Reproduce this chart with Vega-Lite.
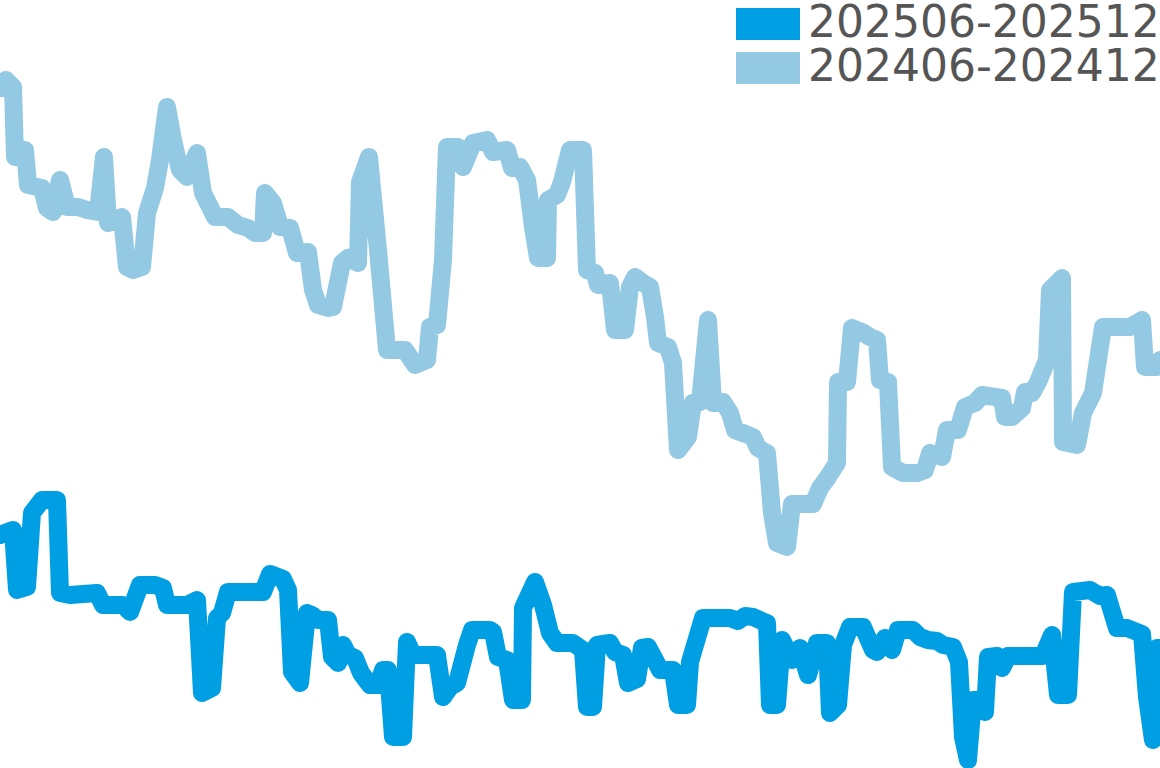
{
  "$schema": "https://vega.github.io/schema/vega-lite/v6.json",
  "width": 1160,
  "height": 768,
  "padding": 0,
  "autosize": {"type": "fit", "contains": "padding"},
  "config": {"view": {"stroke": null}},
  "data": {
    "values": [
      {"p":"202406-202412","d":0,"v":680},{"p":"202406-202412","d":6,"v":688},{"p":"202406-202412","d":13,"v":681},{"p":"202406-202412","d":15,"v":611},{"p":"202406-202412","d":25,"v":618},{"p":"202406-202412","d":28,"v":583},{"p":"202406-202412","d":42,"v":580},{"p":"202406-202412","d":47,"v":560},{"p":"202406-202412","d":53,"v":556},{"p":"202406-202412","d":60,"v":588},{"p":"202406-202412","d":67,"v":561},{"p":"202406-202412","d":78,"v":561},{"p":"202406-202412","d":87,"v":558},{"p":"202406-202412","d":98,"v":556},{"p":"202406-202412","d":104,"v":611},{"p":"202406-202412","d":108,"v":545},{"p":"202406-202412","d":122,"v":551},{"p":"202406-202412","d":127,"v":501},{"p":"202406-202412","d":133,"v":498},{"p":"202406-202412","d":142,"v":501},{"p":"202406-202412","d":147,"v":555},{"p":"202406-202412","d":155,"v":580},{"p":"202406-202412","d":160,"v":608},{"p":"202406-202412","d":167,"v":661},{"p":"202406-202412","d":173,"v":628},{"p":"202406-202412","d":180,"v":598},{"p":"202406-202412","d":187,"v":591},{"p":"202406-202412","d":197,"v":615},{"p":"202406-202412","d":203,"v":575},{"p":"202406-202412","d":215,"v":551},{"p":"202406-202412","d":228,"v":551},{"p":"202406-202412","d":238,"v":543},{"p":"202406-202412","d":248,"v":540},{"p":"202406-202412","d":255,"v":535},{"p":"202406-202412","d":263,"v":535},{"p":"202406-202412","d":265,"v":575},{"p":"202406-202412","d":273,"v":565},{"p":"202406-202412","d":280,"v":541},{"p":"202406-202412","d":290,"v":540},{"p":"202406-202412","d":297,"v":515},{"p":"202406-202412","d":308,"v":516},{"p":"202406-202412","d":313,"v":478},{"p":"202406-202412","d":318,"v":463},{"p":"202406-202412","d":328,"v":460},{"p":"202406-202412","d":333,"v":461},{"p":"202406-202412","d":342,"v":505},{"p":"202406-202412","d":348,"v":510},{"p":"202406-202412","d":358,"v":505},{"p":"202406-202412","d":360,"v":586},{"p":"202406-202412","d":369,"v":611},{"p":"202406-202412","d":378,"v":518},{"p":"202406-202412","d":387,"v":418},{"p":"202406-202412","d":397,"v":418},{"p":"202406-202412","d":405,"v":418},{"p":"202406-202412","d":415,"v":403},{"p":"202406-202412","d":427,"v":408},{"p":"202406-202412","d":430,"v":441},{"p":"202406-202412","d":437,"v":443},{"p":"202406-202412","d":443,"v":508},{"p":"202406-202412","d":447,"v":621},{"p":"202406-202412","d":458,"v":621},{"p":"202406-202412","d":463,"v":601},{"p":"202406-202412","d":473,"v":625},{"p":"202406-202412","d":487,"v":628},{"p":"202406-202412","d":493,"v":616},{"p":"202406-202412","d":507,"v":618},{"p":"202406-202412","d":512,"v":600},{"p":"202406-202412","d":520,"v":601},{"p":"202406-202412","d":527,"v":588},{"p":"202406-202412","d":533,"v":541},{"p":"202406-202412","d":538,"v":510},{"p":"202406-202412","d":547,"v":510},{"p":"202406-202412","d":548,"v":568},{"p":"202406-202412","d":557,"v":573},{"p":"202406-202412","d":562,"v":586},{"p":"202406-202412","d":570,"v":618},{"p":"202406-202412","d":583,"v":618},{"p":"202406-202412","d":587,"v":498},{"p":"202406-202412","d":595,"v":495},{"p":"202406-202412","d":598,"v":483},{"p":"202406-202412","d":610,"v":485},{"p":"202406-202412","d":615,"v":438},{"p":"202406-202412","d":625,"v":438},{"p":"202406-202412","d":630,"v":481},{"p":"202406-202412","d":635,"v":491},{"p":"202406-202412","d":643,"v":485},{"p":"202406-202412","d":650,"v":481},{"p":"202406-202412","d":655,"v":451},{"p":"202406-202412","d":658,"v":425},{"p":"202406-202412","d":668,"v":421},{"p":"202406-202412","d":673,"v":405},{"p":"202406-202412","d":678,"v":318},{"p":"202406-202412","d":688,"v":331},{"p":"202406-202412","d":693,"v":365},{"p":"202406-202412","d":700,"v":366},{"p":"202406-202412","d":708,"v":448},{"p":"202406-202412","d":713,"v":365},{"p":"202406-202412","d":723,"v":366},{"p":"202406-202412","d":730,"v":355},{"p":"202406-202412","d":735,"v":338},{"p":"202406-202412","d":743,"v":335},{"p":"202406-202412","d":753,"v":331},{"p":"202406-202412","d":758,"v":320},{"p":"202406-202412","d":767,"v":315},{"p":"202406-202412","d":772,"v":255},{"p":"202406-202412","d":777,"v":225},{"p":"202406-202412","d":787,"v":221},{"p":"202406-202412","d":792,"v":264},{"p":"202406-202412","d":813,"v":264},{"p":"202406-202412","d":820,"v":280},{"p":"202406-202412","d":828,"v":291},{"p":"202406-202412","d":837,"v":305},{"p":"202406-202412","d":838,"v":386},{"p":"202406-202412","d":847,"v":386},{"p":"202406-202412","d":852,"v":440},{"p":"202406-202412","d":862,"v":436},{"p":"202406-202412","d":870,"v":431},{"p":"202406-202412","d":877,"v":428},{"p":"202406-202412","d":880,"v":388},{"p":"202406-202412","d":888,"v":386},{"p":"202406-202412","d":892,"v":301},{"p":"202406-202412","d":903,"v":295},{"p":"202406-202412","d":917,"v":295},{"p":"202406-202412","d":925,"v":298},{"p":"202406-202412","d":930,"v":315},{"p":"202406-202412","d":942,"v":311},{"p":"202406-202412","d":947,"v":338},{"p":"202406-202412","d":958,"v":338},{"p":"202406-202412","d":965,"v":361},{"p":"202406-202412","d":975,"v":365},{"p":"202406-202412","d":982,"v":373},{"p":"202406-202412","d":995,"v":371},{"p":"202406-202412","d":1002,"v":370},{"p":"202406-202412","d":1005,"v":351},{"p":"202406-202412","d":1012,"v":351},{"p":"202406-202412","d":1022,"v":360},{"p":"202406-202412","d":1025,"v":376},{"p":"202406-202412","d":1032,"v":375},{"p":"202406-202412","d":1038,"v":386},{"p":"202406-202412","d":1047,"v":408},{"p":"202406-202412","d":1050,"v":478},{"p":"202406-202412","d":1062,"v":490},{"p":"202406-202412","d":1063,"v":326},{"p":"202406-202412","d":1077,"v":323},{"p":"202406-202412","d":1083,"v":355},{"p":"202406-202412","d":1093,"v":375},{"p":"202406-202412","d":1103,"v":441},{"p":"202406-202412","d":1130,"v":441},{"p":"202406-202412","d":1142,"v":448},{"p":"202406-202412","d":1145,"v":401},{"p":"202406-202412","d":1157,"v":401},{"p":"202406-202412","d":1160,"v":408},
      {"p":"202506-202512","d":0,"v":233},{"p":"202506-202512","d":13,"v":238},{"p":"202506-202512","d":17,"v":178},{"p":"202506-202512","d":27,"v":181},{"p":"202506-202512","d":32,"v":255},{"p":"202506-202512","d":42,"v":268},{"p":"202506-202512","d":57,"v":268},{"p":"202506-202512","d":60,"v":175},{"p":"202506-202512","d":70,"v":173},{"p":"202506-202512","d":97,"v":175},{"p":"202506-202512","d":103,"v":163},{"p":"202506-202512","d":123,"v":163},{"p":"202506-202512","d":130,"v":156},{"p":"202506-202512","d":140,"v":183},{"p":"202506-202512","d":155,"v":183},{"p":"202506-202512","d":163,"v":180},{"p":"202506-202512","d":167,"v":163},{"p":"202506-202512","d":187,"v":163},{"p":"202506-202512","d":197,"v":168},{"p":"202506-202512","d":202,"v":75},{"p":"202506-202512","d":212,"v":80},{"p":"202506-202512","d":217,"v":150},{"p":"202506-202512","d":222,"v":155},{"p":"202506-202512","d":228,"v":176},{"p":"202506-202512","d":263,"v":176},{"p":"202506-202512","d":270,"v":194},{"p":"202506-202512","d":283,"v":189},{"p":"202506-202512","d":288,"v":178},{"p":"202506-202512","d":292,"v":96},{"p":"202506-202512","d":300,"v":85},{"p":"202506-202512","d":307,"v":155},{"p":"202506-202512","d":312,"v":153},{"p":"202506-202512","d":318,"v":148},{"p":"202506-202512","d":328,"v":148},{"p":"202506-202512","d":332,"v":111},{"p":"202506-202512","d":338,"v":105},{"p":"202506-202512","d":343,"v":123},{"p":"202506-202512","d":348,"v":113},{"p":"202506-202512","d":355,"v":110},{"p":"202506-202512","d":361,"v":95},{"p":"202506-202512","d":370,"v":83},{"p":"202506-202512","d":378,"v":83},{"p":"202506-202512","d":383,"v":98},{"p":"202506-202512","d":388,"v":98},{"p":"202506-202512","d":393,"v":31},{"p":"202506-202512","d":403,"v":31},{"p":"202506-202512","d":407,"v":126},{"p":"202506-202512","d":413,"v":113},{"p":"202506-202512","d":437,"v":113},{"p":"202506-202512","d":443,"v":71},{"p":"202506-202512","d":450,"v":81},{"p":"202506-202512","d":457,"v":85},{"p":"202506-202512","d":467,"v":123},{"p":"202506-202512","d":472,"v":138},{"p":"202506-202512","d":490,"v":138},{"p":"202506-202512","d":493,"v":136},{"p":"202506-202512","d":498,"v":111},{"p":"202506-202512","d":507,"v":108},{"p":"202506-202512","d":513,"v":68},{"p":"202506-202512","d":522,"v":68},{"p":"202506-202512","d":523,"v":160},{"p":"202506-202512","d":535,"v":186},{"p":"202506-202512","d":543,"v":163},{"p":"202506-202512","d":550,"v":135},{"p":"202506-202512","d":557,"v":125},{"p":"202506-202512","d":573,"v":125},{"p":"202506-202512","d":583,"v":118},{"p":"202506-202512","d":587,"v":61},{"p":"202506-202512","d":593,"v":61},{"p":"202506-202512","d":597,"v":123},{"p":"202506-202512","d":610,"v":125},{"p":"202506-202512","d":615,"v":116},{"p":"202506-202512","d":623,"v":113},{"p":"202506-202512","d":628,"v":85},{"p":"202506-202512","d":637,"v":89},{"p":"202506-202512","d":642,"v":120},{"p":"202506-202512","d":648,"v":121},{"p":"202506-202512","d":655,"v":108},{"p":"202506-202512","d":660,"v":98},{"p":"202506-202512","d":673,"v":98},{"p":"202506-202512","d":678,"v":63},{"p":"202506-202512","d":687,"v":63},{"p":"202506-202512","d":690,"v":106},{"p":"202506-202512","d":703,"v":150},{"p":"202506-202512","d":730,"v":150},{"p":"202506-202512","d":738,"v":147},{"p":"202506-202512","d":745,"v":152},{"p":"202506-202512","d":753,"v":151},{"p":"202506-202512","d":762,"v":147},{"p":"202506-202512","d":767,"v":145},{"p":"202506-202512","d":770,"v":63},{"p":"202506-202512","d":777,"v":63},{"p":"202506-202512","d":782,"v":128},{"p":"202506-202512","d":792,"v":108},{"p":"202506-202512","d":800,"v":120},{"p":"202506-202512","d":808,"v":93},{"p":"202506-202512","d":817,"v":125},{"p":"202506-202512","d":827,"v":125},{"p":"202506-202512","d":830,"v":55},{"p":"202506-202512","d":838,"v":63},{"p":"202506-202512","d":843,"v":123},{"p":"202506-202512","d":850,"v":141},{"p":"202506-202512","d":863,"v":141},{"p":"202506-202512","d":873,"v":118},{"p":"202506-202512","d":877,"v":116},{"p":"202506-202512","d":885,"v":130},{"p":"202506-202512","d":892,"v":118},{"p":"202506-202512","d":898,"v":138},{"p":"202506-202512","d":913,"v":138},{"p":"202506-202512","d":920,"v":131},{"p":"202506-202512","d":928,"v":128},{"p":"202506-202512","d":937,"v":127},{"p":"202506-202512","d":943,"v":123},{"p":"202506-202512","d":953,"v":121},{"p":"202506-202512","d":959,"v":106},{"p":"202506-202512","d":963,"v":31},{"p":"202506-202512","d":968,"v":8},{"p":"202506-202512","d":973,"v":68},{"p":"202506-202512","d":980,"v":68},{"p":"202506-202512","d":985,"v":56},{"p":"202506-202512","d":988,"v":111},{"p":"202506-202512","d":997,"v":112},{"p":"202506-202512","d":1002,"v":100},{"p":"202506-202512","d":1008,"v":112},{"p":"202506-202512","d":1043,"v":112},{"p":"202506-202512","d":1052,"v":133},{"p":"202506-202512","d":1058,"v":73},{"p":"202506-202512","d":1068,"v":73},{"p":"202506-202512","d":1073,"v":176},{"p":"202506-202512","d":1090,"v":178},{"p":"202506-202512","d":1100,"v":172},{"p":"202506-202512","d":1107,"v":173},{"p":"202506-202512","d":1113,"v":153},{"p":"202506-202512","d":1117,"v":140},{"p":"202506-202512","d":1127,"v":140},{"p":"202506-202512","d":1137,"v":136},{"p":"202506-202512","d":1142,"v":134},{"p":"202506-202512","d":1147,"v":71},{"p":"202506-202512","d":1153,"v":28},{"p":"202506-202512","d":1157,"v":120},{"p":"202506-202512","d":1160,"v":120}
    ]
  },
  "mark": {"type": "line", "strokeWidth": 18, "strokeCap": "round", "strokeJoin": "round", "clip": true},
  "encoding": {
    "x": {"field": "d", "type": "quantitative", "scale": {"domain": [0, 1160], "nice": false, "zero": false}, "axis": null},
    "y": {"field": "v", "type": "quantitative", "scale": {"domain": [0, 768], "nice": false}, "axis": null},
    "order": {"field": "d", "type": "quantitative"},
    "color": {
      "field": "p",
      "type": "nominal",
      "sort": ["202506-202512", "202406-202412"],
      "scale": {"domain": ["202506-202512", "202406-202412"], "range": ["#009fe3", "#93c9e3"]},
      "legend": {
        "title": null,
        "orient": "none",
        "legendX": 746,
        "legendY": 2,
        "padding": 0,
        "rowPadding": 0,
        "symbolType": "M-2,-1H2V1H-2Z",
        "symbolSize": 1024,
        "symbolStrokeWidth": 0,
        "labelFont": "DejaVu Sans",
        "labelFontSize": 44,
        "labelColor": "#555555",
        "labelOffset": 18,
        "labelLimit": 0,
        "encode": {"symbols": {"update": {"fill": {"scale": "color", "field": "value"}, "opacity": {"value": 1}}}}
      }
    }
  }
}
